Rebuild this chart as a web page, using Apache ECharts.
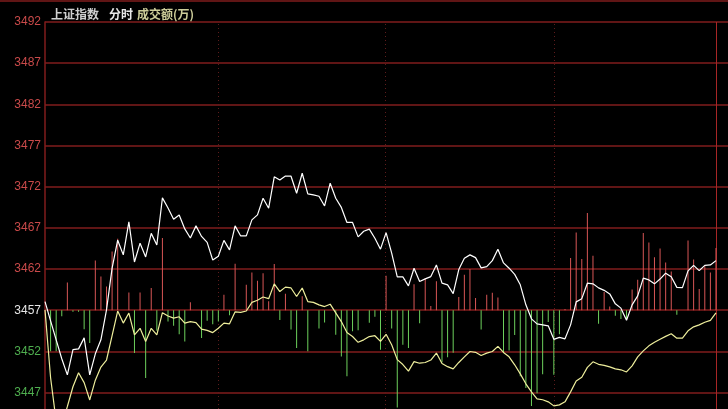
<!DOCTYPE html>
<html><head><meta charset="utf-8">
<script src="https://cdn.jsdelivr.net/npm/echarts@6/dist/echarts.min.js"></script>
<style>html,body{margin:0;padding:0;background:#000;}#c{width:728px;height:409px;}</style>
</head><body><div id="c"></div>
<script>
// 2-minute samples, 09:30 .. 15:00 (121 points)
const priceLine = [
3458.05,3455.7,3453.4,3451.1,3449.15,3452.2,3452.3,3453.64,3449.15,3451.7,
3453.4,3457.04,3462.1,3465.5,3463.72,3467.72,3462.85,3465.14,3463.47,3466.33,
3464.93,3470.64,3469.42,3468.05,3468.57,3466.87,3465.77,3467.24,3465.96,3465.23,
3463.1,3463.56,3465.48,3464.32,3467.24,3466.02,3466.02,3467.97,3468.57,3470.6,
3469.39,3473.2,3472.8,3473.3,3473.27,3471.2,3473.63,3471.12,3471.0,3470.84,
3469.66,3472.42,3470.6,3469.48,3467.66,3467.66,3465.9,3466.59,3466.85,3465.74,
3464.41,3466.42,3463.92,3461.05,3461.05,3459.95,3462.1,3460.48,3460.8,3461.08,
3462.5,3460.28,3460.07,3459.02,3461.93,3463.32,3463.72,3463.38,3462.14,3462.3,
3463.02,3464.41,3462.74,3462.1,3461.35,3460.08,3457.65,3455.95,3455.34,3455.22,
3455.1,3453.46,3453.7,3453.52,3455.22,3458.01,3458.4,3460.28,3460.2,3459.71,
3459.41,3458.98,3457.77,3457.25,3455.77,3457.65,3458.74,3460.89,3460.68,3460.2,
3460.78,3461.5,3461.05,3459.77,3459.74,3461.77,3462.44,3461.81,3462.44,3462.5,
3463.02];
const avgLine = [
3457.04,3448.8,3443.5,3443.0,3445.3,3447.7,3449.4,3448.2,3446.1,3448.5,
3450.1,3450.95,3453.9,3456.9,3455.43,3456.65,3454.0,3454.8,3453.2,3454.8,
3454.0,3456.7,3456.3,3456.03,3456.2,3455.43,3455.62,3455.5,3454.7,3454.55,
3454.28,3454.8,3455.43,3455.34,3456.8,3456.73,3456.9,3457.95,3458.2,3458.6,
3458.4,3460.2,3459.26,3459.8,3459.7,3458.66,3459.7,3458.05,3457.95,3457.65,
3457.44,3457.73,3456.68,3455.62,3454.28,3453.8,3453.1,3453.4,3453.8,3453.9,
3453.22,3454.07,3452.8,3451.0,3450.4,3449.6,3450.76,3450.56,3450.65,3450.95,
3451.8,3450.53,3450.14,3449.87,3450.65,3451.33,3451.98,3451.88,3451.5,3451.78,
3451.98,3452.6,3451.87,3451.34,3450.37,3449.27,3448.06,3447.08,3446.24,3446.12,
3445.87,3445.38,3445.5,3445.87,3447.08,3448.4,3448.85,3450.06,3450.73,3450.43,
3450.3,3450.12,3449.88,3449.76,3449.5,3450.24,3451.33,3452.06,3452.67,3453.1,
3453.46,3453.82,3454.13,3453.6,3453.6,3454.5,3454.98,3455.22,3455.53,3455.77,
3456.68];
// red/green strength bars, measured from the previous close line
const strength = [
0,-5.0,-5.0,-0.75,3.37,-0.2,-0.2,-2.31,-3.98,6.04,
4.10,2.89,7.14,8.68,0,2.16,-5.19,2.16,-8.23,2.69,
-2.49,8.76,-1.36,-1.88,-2.91,-3.79,0.95,0,-3.37,-1.27,
-1.70,-1.36,1.88,-0.61,5.64,0,3.09,4.59,3.58,4.49,
1.09,5.62,-1.19,2.00,-2.33,-4.59,1.70,-5.00,0,-2.22,
-1.48,0,-2.97,-5.61,-8.03,-2.57,-2.45,0,-1.52,-0.79,
-4.79,4.19,-2.22,-11.83,-4.19,-4.59,3.16,-1.60,3.85,0.51,
3.50,-6.31,-5.70,-5.16,1.60,4.31,5.00,1.48,-2.33,1.88,
2.12,1.54,-5.19,-4.89,-3.01,-8.03,-9.44,-11.63,-10.10,-7.77,
-1.42,-7.83,-2.91,0.15,6.33,9.44,6.21,11.80,6.61,-1.64,
2.22,0.46,-0.67,-1.07,-1.07,2.52,3.70,9.37,8.23,6.43,
7.50,5.80,4.71,-0.55,0,8.46,6.17,2.57,5.40,4.59,
7.55];
const yTicks = [3447,3452,3457,3462,3467,3472,3477,3482,3487,3492];
const prevClose = 3457;
const sessionMarks = [30.9, 60.9, 91];
const dayEnd = 120.05;

const gridColor = '#801c1c';
const chart = echarts.init(document.getElementById('c'), null, {renderer: 'canvas'});
const toPairs = arr => arr.map((v, i) => [i, v]);

const markData = [
  {yAxis: prevClose, lineStyle: {color: '#a82222', width: 2, type: 'solid'}},
  {xAxis: dayEnd, lineStyle: {color: '#a82626', width: 1, type: 'solid'}}
].concat(sessionMarks.map(x => ({xAxis: x, lineStyle: {color: '#5e1c1c', width: 1, type: [1, 3]}})));

chart.setOption({
  backgroundColor: '#000',
  animation: false,
  title: {
    left: 46, top: 3,
    text: '{a|上证指数}{b|分时}{c|成交额(万)}',
    textStyle: {
      rich: {
        a: {color: '#cfcfcf', fontSize: 12, fontFamily: 'Noto Sans CJK SC', padding: [0, 10, 0, 0]},
        b: {color: '#e8e8e8', fontSize: 12, fontFamily: 'Noto Sans CJK SC', padding: [0, 4, 0, 0]},
        c: {color: '#cdcd9a', fontSize: 12, fontFamily: 'Noto Sans CJK SC'}
      }
    }
  },
  graphic: [{type: 'line', shape: {x1: 0, y1: 1, x2: 728, y2: 1}, style: {stroke: gridColor, lineWidth: 1.5}}],
  grid: {left: 45, right: 0, top: 22, bottom: 0},
  xAxis: {type: 'value', min: 0, max: 122.15, show: false},
  yAxis: [{
    type: 'value', min: 3445, max: 3492,
    axisLine: {show: true, lineStyle: {color: gridColor, width: 1.5}},
    axisTick: {show: false, customValues: yTicks},
    axisLabel: {
      customValues: yTicks, fontSize: 12, fontFamily: 'Liberation Sans', margin: 4,
      formatter: v => String(v),
      color: v => (Number(v) > prevClose ? '#c94a4a' : (Number(v) < prevClose ? '#4fae4f' : '#e6e6e6'))
    },
    splitLine: {show: true, lineStyle: {color: gridColor, width: 1.5}}
  }, {
    type: 'value', min: 3445 - prevClose, max: 3492 - prevClose, show: false, splitLine: {show: false}
  }],
  series: [
    {
      type: 'bar', yAxisIndex: 1, data: toPairs(strength), barWidth: 1, silent: true,
      itemStyle: {color: p => (p.value[1] >= 0 ? '#d85656' : '#6dd05c')},
      markLine: {symbol: 'none', silent: true, label: {show: false}, z: 1, data: markData}
    },
    {type: 'line', data: toPairs(avgLine), symbol: 'none', lineStyle: {color: '#eeee9c', width: 1.2}},
    {type: 'line', data: toPairs(priceLine), symbol: 'none', lineStyle: {color: '#ffffff', width: 1.2}}
  ]
});
</script></body></html>
